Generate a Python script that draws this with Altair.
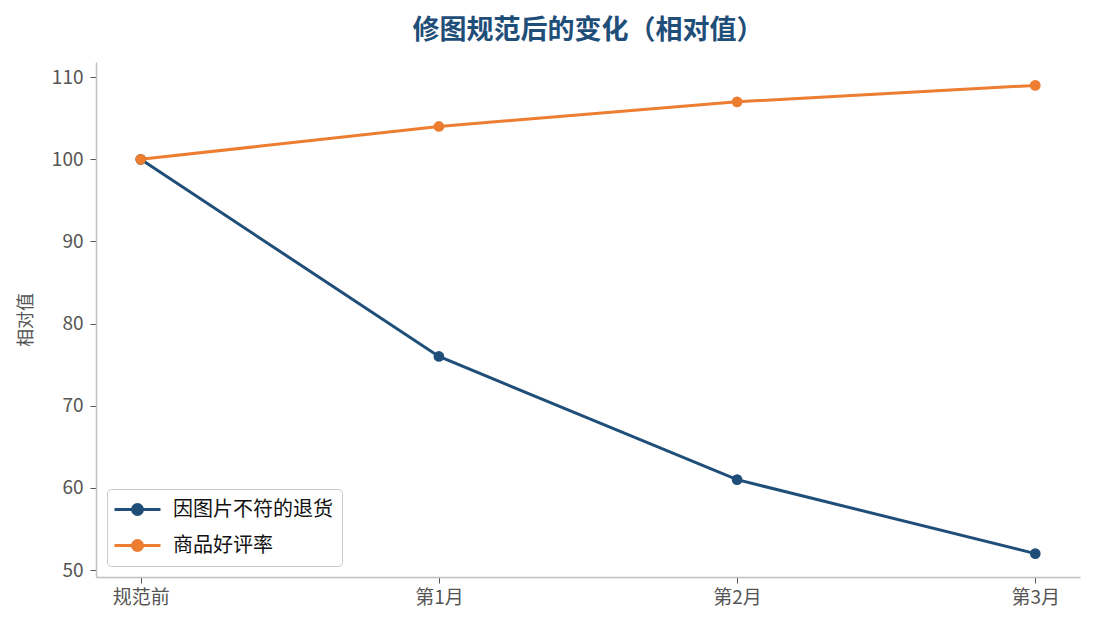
import altair as alt
import pandas as pd

#---data
months = ['规范前', '第1月', '第2月', '第3月']
returns = [100, 76, 61, 52]
rating = [100, 104, 107, 109]
series_names = ['因图片不符的退货', '商品好评率']
series_colors = ['#1f4e79', '#ed7d31']

df = pd.DataFrame({
    'month': months * 2,
    'value': returns + rating,
    'series': [series_names[0]] * len(months) + [series_names[1]] * len(months),
})

font = 'Noto Sans CJK SC'
# line with a dot in the middle, like the matplotlib legend handle
sym = 'M-2.3,0H2.3M-0.5,0a0.5,0.5 0 1,0 1,0a0.5,0.5 0 1,0 -1,0'

x = alt.X('month:N', sort=months, title=None,
          scale=alt.Scale(type='point', padding=0.15),
          axis=alt.Axis(labelAngle=0, labelFontSize=19, labelPadding=5))
y = alt.Y('value:Q', title='相对值',
          scale=alt.Scale(domain=[49.15, 111.85], nice=False, zero=False),
          axis=alt.Axis(values=[50, 60, 70, 80, 90, 100, 110], labelFontSize=19,
                        labelPadding=7, titleFontSize=18, titleFontWeight='normal',
                        titlePadding=16))
color = alt.Color('series:N', sort=series_names, title=None,
                  scale=alt.Scale(domain=series_names, range=series_colors),
                  legend=alt.Legend(orient='bottom-left', offset=11, symbolType=sym,
                                    symbolSize=400, symbolStrokeWidth=3,
                                    symbolOffset=10, labelOffset=24,
                                    labelFontSize=20, labelColor='#111',
                                    rowPadding=13, padding=9, strokeColor='#cccccc',
                                    cornerRadius=4, fillColor='white'))

lines = alt.Chart(df).mark_line(strokeWidth=3).encode(x=x, y=y, color=color)
dots = alt.Chart(df).mark_circle(size=115, opacity=1).encode(x=x, y=y, color=color)

chart = (lines + dots).properties(
    width=984, height=515,
    autosize=alt.AutoSizeParams(type='none'),
    padding={'left': 88, 'top': 54, 'right': 7, 'bottom': 45},
    title=alt.Title('修图规范后的变化（相对值）', fontSize=27, fontWeight='bold',
                    color='#1f4e79', font=font, offset=17, anchor='middle'),
).configure(font=font).configure_view(stroke=None).configure_axis(
    grid=False, domainColor='#c0c0c0', domainWidth=1.5, tickColor='#555',
    tickSize=6, labelColor='#555', titleColor='#555', labelFont=font, titleFont=font
).configure_legend(labelFont=font)

chart.save('out.html', embed_options={'renderer': 'svg', 'actions': False})
